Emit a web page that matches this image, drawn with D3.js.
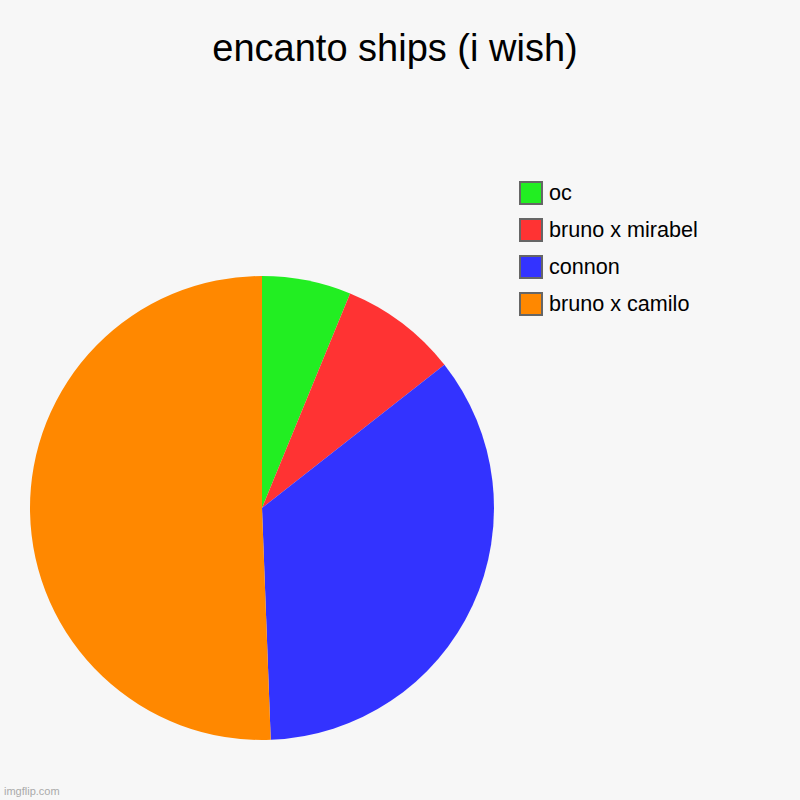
<!DOCTYPE html>
<html>
<head>
<meta charset="utf-8">
<script src="https://cdn.jsdelivr.net/npm/d3@7"></script>
<style>
  body { margin: 0; background: #f7f7f7; }
  text { font-family: "Liberation Sans", Arial, sans-serif; }
</style>
</head>
<body>
<div id="container"></div>
<script>
const container = d3.select('#container')

// slices, clockwise from 12 o'clock
const labels = ["oc", "bruno x mirabel", "connon", "bruno x camilo"];
const values = [6.2, 8.2, 35.0, 50.6];
const colors = ["#22ee22", "#ff3333", "#3333ff", "#ff8800"];

var width = 800,
    height = 800,
    cx = 262,
    cy = 508,
    radius = 232;

const svg = container
    .append('svg')
        .attr('width', width)
        .attr('height', height);

svg.append("rect")
    .attr("width", width)
    .attr("height", height)
    .attr("fill", "#f7f7f7");

svg.append("text")
    .attr("x", 395)
    .attr("y", 61)
    .attr("text-anchor", "middle")
    .attr("font-size", "38px")
    .attr("fill", "#000")
    .text("encanto ships (i wish)");

var pie = d3.pie().sort(null).value(d => d.value);
var arc = d3.arc().innerRadius(0).outerRadius(radius);

var data = labels.map((l, i) => ({ label: l, value: values[i], color: colors[i] }));

svg.append("g")
    .attr("transform", "translate(" + cx + "," + cy + ")")
    .selectAll("path")
    .data(pie(data))
    .enter()
    .append("path")
        .attr("d", arc)
        .attr("fill", d => d.data.color);

// legend
var legend = svg.append("g").attr("transform", "translate(519,181)");

var rows = legend.selectAll("g")
    .data(data)
    .enter()
    .append("g")
        .attr("transform", (d, i) => "translate(0," + i * 37 + ")");

rows.append("rect")
    .attr("x", 1)
    .attr("y", 1)
    .attr("width", 22)
    .attr("height", 22)
    .attr("fill", d => d.color)
    .attr("stroke", "#666")
    .attr("stroke-width", 2);

rows.append("text")
    .attr("x", 30)
    .attr("y", 19)
    .attr("font-size", "21.6px")
    .attr("fill", "#000")
    .text(d => d.label);

svg.append("text")
    .attr("x", 4)
    .attr("y", 795)
    .attr("font-size", "11px")
    .attr("fill", "#aaa")
    .text("imgflip.com");
</script>
</body>
</html>
